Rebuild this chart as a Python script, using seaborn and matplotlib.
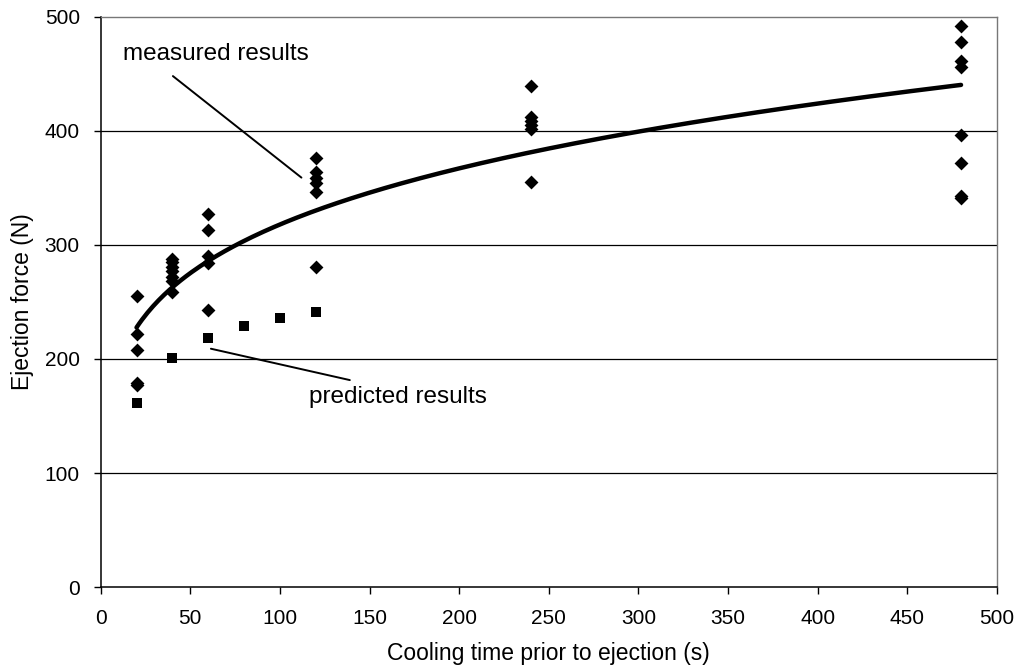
import numpy as np
import pandas as pd
import matplotlib
matplotlib.use("Agg")
import matplotlib.pyplot as plt
import seaborn as sns

# measured results (cooling time s, ejection force N)
meas_x = [20, 20, 20, 20, 20,
          40, 40, 40, 40, 40, 40, 40,
          60, 60, 60, 60, 60,
          120, 120, 120, 120, 120, 120,
          240, 240, 240, 240, 240, 240,
          480, 480, 480, 480, 480, 480, 480, 480]
meas_y = [255, 222, 208, 179, 177,
          288, 285, 281, 277, 272, 268, 259,
          327, 313, 290, 284, 243,
          376, 364, 359, 354, 346, 281,
          439, 412, 409, 405, 402, 355,
          492, 478, 461, 456, 396, 372, 343, 341]

# predicted results
pred_x = [20, 40, 60, 80, 100, 120]
pred_y = [161, 201, 218, 229, 236, 241]

x_ticks = [0, 50, 100, 150, 200, 250, 300, 350, 400, 450, 500]
y_ticks = [0, 100, 200, 300, 400, 500]

sns.set_theme(style="white")
plt.rcParams['font.family'] = ['Liberation Sans', 'DejaVu Sans']

fig = plt.figure(figsize=(10.19, 6.71), dpi=100)
ax = fig.add_axes([0.0988, 0.125, 0.8795, 0.85])

meas = pd.DataFrame({"x": meas_x, "y": meas_y})
pred = pd.DataFrame({"x": pred_x, "y": pred_y})

# power-law trendline fitted to measured data (like a spreadsheet power trendline)
b, ln_a = np.polyfit(np.log(meas["x"]), np.log(meas["y"]), 1)
cx = np.linspace(min(meas_x), max(meas_x), 300)
curve = pd.DataFrame({"x": cx, "y": np.exp(ln_a) * cx ** b})

for yv in y_ticks[1:-1]:
    ax.axhline(yv, color="black", lw=0.9, zorder=1)

sns.lineplot(data=curve, x="x", y="y", ax=ax, color="black", lw=3.2, zorder=3)
sns.scatterplot(data=meas, x="x", y="y", ax=ax, marker="D", s=50, color="black",
                edgecolor="black", linewidth=0, zorder=4)
sns.scatterplot(data=pred, x="x", y="y", ax=ax, marker="s", s=46, color="black",
                edgecolor="black", linewidth=0, zorder=4)

ax.set_xlim(0, 500)
ax.set_ylim(0, 500)
ax.set_xticks(x_ticks)
ax.set_yticks(y_ticks)
ax.tick_params(axis="both", labelsize=15, colors="black", length=5, width=1,
               direction="out", bottom=True, left=True)
ax.tick_params(axis="x", pad=11)
ax.tick_params(axis="y", pad=10)
ax.set_xlabel("Cooling time prior to ejection (s)", fontsize=16.5, color="black", labelpad=10)
ax.set_ylabel("Ejection force (N)", fontsize=16.5, color="black", labelpad=8)

for s in ["left", "bottom"]:
    ax.spines[s].set_color("black")
    ax.spines[s].set_linewidth(1.1)
for s in ["top", "right"]:
    ax.spines[s].set_color("#777777")
    ax.spines[s].set_linewidth(1.0)

# annotations
ax.text(64, 467, "measured results", fontsize=17.5, ha="center", va="center", color="black")
ax.annotate("", xy=(112, 359), xytext=(40.3, 448),
            arrowprops=dict(arrowstyle="-", color="black", lw=1.4, shrinkA=0, shrinkB=0))
ax.text(166, 167, "predicted results", fontsize=17.5, ha="center", va="center", color="black")
ax.annotate("", xy=(139, 181.5), xytext=(61.5, 209),
            arrowprops=dict(arrowstyle="-", color="black", lw=1.4, shrinkA=0, shrinkB=0))

fig.savefig("out.png", dpi=100)
